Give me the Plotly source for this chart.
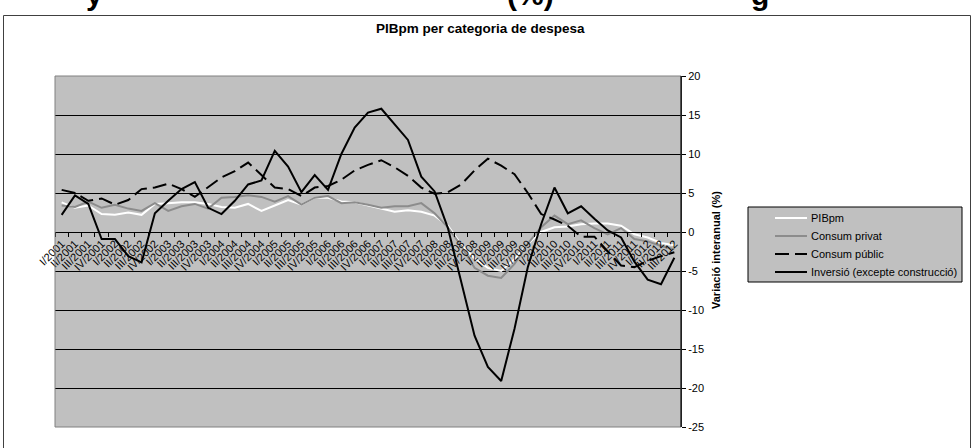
import plotly.graph_objects as go

years = list(range(2001, 2013))
quarters = ["I", "II", "III", "IV"]
categories = [f"{q}/{y}" for y in years for q in quarters][:47]

pibpm = [3.8, 3.1, 3.4, 2.3, 2.2, 2.5, 2.2, 3.6, 3.7, 3.8, 3.8, 3.6,
         3.2, 3.1, 3.6, 2.7, 3.4, 4.1, 3.5, 4.4, 4.4, 3.9, 3.8, 3.4,
         3.0, 2.6, 2.8, 2.6, 2.1, 0.8, -1.6, -3.4, -4.6, -5.0, -3.5, -1.5,
         0.0, 0.6, 0.7, 1.0, 1.1, 1.1, 0.8, -0.3, -0.7, -1.4, -1.7]

consum_privat = [3.4, 3.2, 3.9, 3.1, 3.5, 3.0, 2.7, 3.7, 2.7, 3.3, 3.6, 3.0,
                 4.4, 4.5, 4.7, 4.5, 3.9, 4.6, 3.5, 4.4, 4.6, 3.7, 3.8, 3.5,
                 3.1, 3.3, 3.3, 3.7, 2.4, 0.6, -1.8, -4.6, -5.6, -5.9, -4.1, -1.5,
                 0.6, 2.1, 1.0, 1.5, 0.5, -0.3, 0.5, -0.9, -1.2, -1.8, -2.2]

consum_public = [5.4, 5.0, 4.0, 4.3, 3.5, 4.1, 5.5, 5.7, 6.2, 5.5, 4.5, 5.7,
                 7.0, 7.8, 8.9, 7.3, 5.7, 5.5, 4.6, 5.7, 5.9, 6.7, 7.9, 8.6,
                 9.2, 8.3, 7.2, 5.7, 4.9, 5.1, 6.1, 7.9, 9.4, 8.5, 7.4, 5.0,
                 2.3, 1.6, 0.8, -0.6, -0.6, -2.5, -4.3, -4.5, -3.7, -3.1, -2.6]

inversio = [2.2, 4.7, 3.6, -0.9, -0.9, -3.1, -3.9, 2.4, 4.0, 5.5, 6.4, 3.1,
            2.3, 4.0, 6.1, 6.6, 10.4, 8.4, 5.1, 7.3, 5.4, 10.0, 13.4, 15.3,
            15.8, 13.8, 11.8, 7.1, 5.2, 0.5, -6.5, -13.3, -17.3, -19.1, -12.4, -4.5,
            1.0, 5.7, 2.4, 3.3, 1.7, 0.2, -0.7, -3.8, -6.1, -6.7, -3.3]

series_names = ["PIBpm", "Consum privat", "Consum públic", "Inversió (excepte construcció)"]
y_ticks = [20, 15, 10, 5, 0, -5, -10, -15, -20, -25]
y_ticktext = ["20", "15", "10", "5", "0", "-5", "-10", "-15", "-20", "-25"]

FONT = "Liberation Sans, Arial, sans-serif"

# plot area in pixels
L, R, T, B = 55, 681, 76, 427
W, H = R - L, B - T


def px(x):
    return (x - L) / W


def py(y):
    return (B - y) / H


styles = [dict(color="#ffffff", width=2),
          dict(color="#8c8c8c", width=2),
          dict(color="#000000", width=2, dash="14px,6px"),
          dict(color="#000000", width=2)]
values = [pibpm, consum_privat, consum_public, inversio]

fig = go.Figure()
for name, vals, st in zip(series_names, values, styles):
    fig.add_trace(go.Scatter(x=categories, y=vals, name=name, mode="lines",
                             line=st, showlegend=False))

fig.update_layout(
    width=974, height=448,
    margin=dict(l=L, r=974 - R, t=T, b=448 - B, autoexpand=False),
    paper_bgcolor="#ffffff",
    plot_bgcolor="#c0c0c0",
    font=dict(family=FONT, size=10, color="#000000"),
    showlegend=False,
    xaxis=dict(type="category", range=[-0.5, 46.5], anchor="free",
               position=25 / 45, showline=True, linecolor="#000000", linewidth=1,
               ticks="outside", ticklen=4, tickcolor="#000000", tickson="boundaries",
               tickangle=-45, tickfont=dict(family=FONT, size=11),
               showgrid=False, zeroline=False, automargin=False),
    yaxis=dict(range=[-25, 20], side="right", tickvals=y_ticks, ticktext=y_ticktext,
               showline=True, linecolor="#000000", linewidth=1,
               ticks="outside", ticklen=4, tickcolor="#000000",
               tickfont=dict(family=FONT, size=11),
               showgrid=True, gridcolor="#000000", gridwidth=1, zeroline=False,
               automargin=False),
)

# plot area border (grey) and black value axis line
fig.add_shape(type="rect", xref="paper", yref="paper", x0=0, x1=1, y0=0, y1=1,
              line=dict(color="#808080", width=1), layer="above")
fig.add_shape(type="line", xref="paper", yref="paper", x0=1, x1=1, y0=0, y1=1,
              line=dict(color="#000000", width=1), layer="above")
# chart area frame
fig.add_shape(type="rect", xref="paper", yref="paper", x0=px(3.5), x1=px(970.5),
              y0=py(470), y1=py(15.5),
              line=dict(color="#404040", width=1))

# legend (drawn manually to match the box geometry)
LX0, LX1, LY0, LY1 = 748, 962, 207, 282
fig.add_shape(type="rect", xref="paper", yref="paper", x0=px(LX0), x1=px(LX1),
              y0=py(LY1), y1=py(LY0), fillcolor="#c0c0c0",
              line=dict(color="#000000", width=1))
for k, (name, st) in enumerate(zip(series_names, styles)):
    yy = 218 + 18 * k
    fig.add_shape(type="line", xref="paper", yref="paper", x0=px(775), x1=px(807),
                  y0=py(yy), y1=py(yy), line=st)
    fig.add_annotation(text=name, xref="paper", yref="paper", x=px(809), y=py(yy),
                       showarrow=False, xanchor="left", yanchor="middle",
                       font=dict(family=FONT, size=11))

fig.add_annotation(text="<b>PIBpm per categoria de despesa</b>", xref="paper", yref="paper",
                   x=px(480), y=py(28), showarrow=False,
                   font=dict(family=FONT, size=13.5), xanchor="center", yanchor="middle")
fig.add_annotation(text="<b>Variació interanual (%)</b>", xref="paper", yref="paper",
                   x=px(716), y=py(250), showarrow=False,
                   textangle=-90, font=dict(family=FONT, size=11),
                   xanchor="center", yanchor="middle")

# cut-off fragments of the outer page title
for txt, cx in [("y", 94), ("(%)", 530), ("g", 760)]:
    fig.add_annotation(text=f"<b>{txt}</b>", xref="paper", yref="paper",
                       x=px(cx), y=py(-6), showarrow=False,
                       font=dict(family=FONT, size=30), xanchor="center", yanchor="middle")

fig.write_html("out.html", config={"displayModeBar": False},
               post_script="document.body.style.margin='0';")
